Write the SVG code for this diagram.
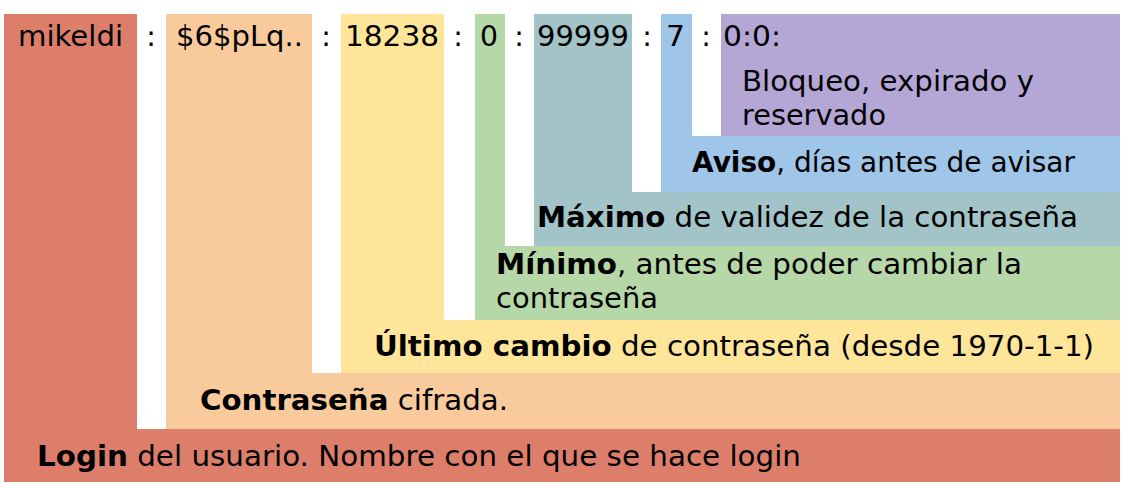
<svg xmlns="http://www.w3.org/2000/svg" width="1122" height="484" viewBox="0 0 1122 484">
<style>
text{font-family:"DejaVu Sans","Liberation Sans",sans-serif;font-size:28.5px;fill:#000}
.b{font-weight:bold}
.c{text-anchor:middle}
</style>
<rect width="1122" height="484" fill="#fff"/>
<g id="login">
<path d="M4 14H137V429H1120V482H4Z" fill="#dd7e6b"/>
<text x="18" y="46" textLength="105" lengthAdjust="spacingAndGlyphs">mikeldi</text>
<text x="37" y="466" textLength="764" lengthAdjust="spacingAndGlyphs"><tspan class="b">Login</tspan> del usuario. Nombre con el que se hace login</text>
</g>
<g id="password">
<path d="M166 14H312V373H1120V429H166Z" fill="#f9cb9c"/>
<text x="176" y="46" textLength="127" lengthAdjust="spacingAndGlyphs">$6$pLq..</text>
<text x="200" y="410" textLength="308" lengthAdjust="spacingAndGlyphs"><tspan class="b">Contraseña</tspan> cifrada.</text>
</g>
<g id="lastchange">
<path d="M341 14H444V320H1120V373H341Z" fill="#ffe599"/>
<text x="345" y="46" textLength="94" lengthAdjust="spacingAndGlyphs">18238</text>
<text x="374" y="356" textLength="720" lengthAdjust="spacingAndGlyphs"><tspan class="b">Último cambio</tspan> de contraseña (desde 1970-1-1)</text>
</g>
<g id="min">
<path d="M475 14H505V246H1120V320H475Z" fill="#b6d7a8"/>
<text x="480" y="46" textLength="18" lengthAdjust="spacingAndGlyphs">0</text>
<text x="496" y="274" textLength="526" lengthAdjust="spacingAndGlyphs"><tspan class="b">Mínimo</tspan>, antes de poder cambiar la</text>
<text x="496" y="308" textLength="162" lengthAdjust="spacingAndGlyphs">contraseña</text>
</g>
<g id="max">
<path d="M534 14H632V192H1120V246H534Z" fill="#a2c4c9"/>
<text x="537" y="227" textLength="541" lengthAdjust="spacingAndGlyphs"><tspan class="b">Máximo</tspan> de validez de la contraseña</text>
<text x="537" y="46" textLength="92" lengthAdjust="spacingAndGlyphs">99999</text>
</g>
<g id="warn">
<path d="M661 14H692V136H1120V192H661Z" fill="#9fc5e8"/>
<text x="666" y="46" textLength="19" lengthAdjust="spacingAndGlyphs">7</text>
<text x="692" y="172" textLength="383" lengthAdjust="spacingAndGlyphs"><tspan class="b">Aviso</tspan>, días antes de avisar</text>
</g>
<g id="flags">
<rect x="721" y="14" width="399" height="122" fill="#b4a7d6"/>
<text x="723" y="46" textLength="58" lengthAdjust="spacingAndGlyphs">0:0:</text>
<text x="742" y="91" textLength="292" lengthAdjust="spacingAndGlyphs">Bloqueo, expirado y</text>
<text x="742" y="125" textLength="144" lengthAdjust="spacingAndGlyphs">reservado</text>
</g>
<g id="separators">
<text class="c" x="151" y="46">:</text>
<text class="c" x="326" y="46">:</text>
<text class="c" x="458" y="46">:</text>
<text class="c" x="519" y="46">:</text>
<text class="c" x="647" y="46">:</text>
<text class="c" x="706" y="46">:</text>
</g>
</svg>
